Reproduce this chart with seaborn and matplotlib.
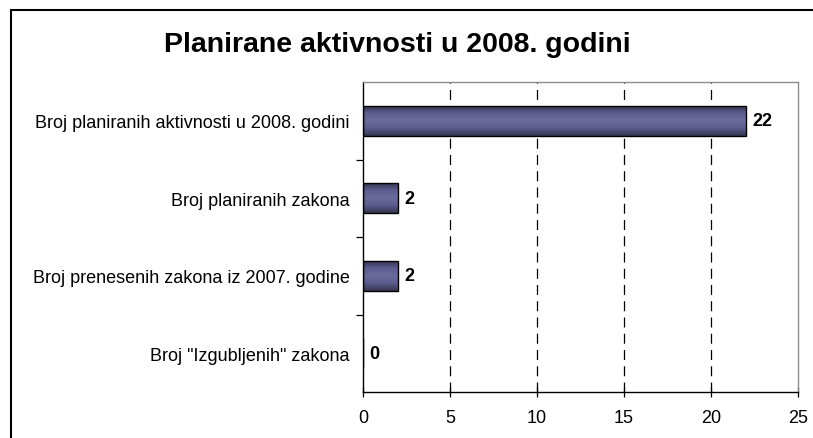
import numpy as np
import pandas as pd
import matplotlib
matplotlib.use("Agg")
import matplotlib.pyplot as plt
import seaborn as sns
from matplotlib.lines import Line2D
from matplotlib.colors import LinearSegmentedColormap

categories = [
    "Broj planiranih aktivnosti u 2008. godini",
    "Broj planiranih zakona",
    "Broj prenesenih zakona iz 2007. godine",
    'Broj "Izgubljenih" zakona',
]
values = [22, 2, 2, 0]
title = "Planirane aktivnosti u 2008. godini"
xticks = [0, 5, 10, 15, 20, 25]

sns.set_theme(style="white")
plt.rcParams["font.family"] = ["Liberation Sans", "DejaVu Sans"]
plt.rcParams["text.color"] = "black"
plt.rcParams["xtick.labelcolor"] = "black"
plt.rcParams["ytick.labelcolor"] = "black"

df = pd.DataFrame({"cat": categories, "val": values})

fig = plt.figure(figsize=(8.13, 4.39), dpi=100)
ax = fig.add_axes([363 / 813, 1 - 393 / 439, (798 - 363) / 813, (393 - 83) / 439])

sns.barplot(data=df, y="cat", x="val", orient="h", ax=ax, width=0.39,
            color="#5E5E92", edgecolor="black", linewidth=1.0, saturation=1)

ax.set_xlim(0, 25)
ax.set_ylim(3.5, -0.5)

# gradient fill for bars
cmap = LinearSegmentedColormap.from_list(
    "bar", ["#2F2F4C", "#5C5C8E", "#6A6A9E", "#5C5C8E", "#35354F"])
grad = np.linspace(0, 1, 64).reshape(-1, 1)
for p in ax.patches:
    x0, y0 = p.get_x(), p.get_y()
    w, h = p.get_width(), p.get_height()
    if w <= 0:
        continue
    im = ax.imshow(grad, cmap=cmap, aspect="auto",
                   extent=[x0, x0 + w, y0 + h, y0], zorder=2,
                   interpolation="bicubic")
    im.set_clip_path(p)
    p.set_facecolor("none")
    p.set_zorder(3)
ax.set_xlim(0, 25)
ax.set_ylim(3.5, -0.5)

# value labels
for i, v in enumerate(values):
    ax.annotate(str(v), xy=(v, i), xytext=(4.5, 0), textcoords="offset points",
                ha="left", va="center", fontsize=13, fontweight="bold",
                color="black", zorder=5)

# grid
for xv in xticks[1:-1]:
    ax.axvline(xv, color="black", linestyle=(0, (8, 5)), linewidth=0.9, zorder=1)

ax.set_xticks(xticks)
ax.set_xticklabels([str(t) for t in xticks], fontsize=13, color="black")
ax.set_yticks(range(len(categories)))
ax.set_yticklabels(categories, fontsize=13, color="black")
ax.set_yticks([0.5, 1.5, 2.5], minor=True)
ax.tick_params(axis="y", which="major", length=0, pad=9.5)
ax.tick_params(axis="y", which="minor", length=5, width=0.9, direction="out",
               color="black", left=True)
ax.tick_params(axis="x", which="major", length=7, width=0.9, direction="inout",
               color="black", bottom=True, pad=8.5)
ax.set_xlabel("")
ax.set_ylabel("")

for side in ["left", "bottom"]:
    ax.spines[side].set_color("black")
    ax.spines[side].set_linewidth(1.0)
for side in ["top", "right"]:
    ax.spines[side].set_color("#8C8C8C")
    ax.spines[side].set_linewidth(1.0)
    ax.spines[side].set_visible(True)

fig.text(397 / 813, 1 - 45 / 439, title, ha="center", va="center",
         fontsize=20.5, fontweight="bold", color="black")

# outer chart border
fig.add_artist(Line2D([11 / 813, 1.0], [1 - 11 / 439, 1 - 11 / 439],
                      transform=fig.transFigure, color="black", linewidth=1.5))
fig.add_artist(Line2D([11 / 813, 11 / 813], [0.0, 1 - 11 / 439],
                      transform=fig.transFigure, color="black", linewidth=1.5))

fig.savefig("out.png", dpi=100)
